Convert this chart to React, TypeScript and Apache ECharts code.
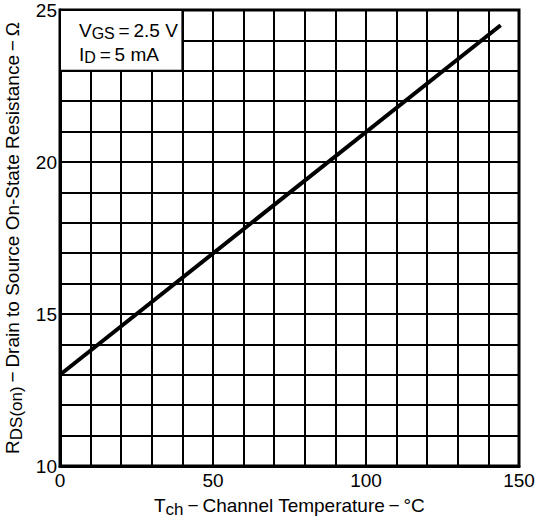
import React, { useEffect, useRef } from "react";
import * as echarts from "echarts";

const xTempC = [0, 144];
const yResistance = [13, 24.5];
const xLabelValues = [0, 50, 100, 150];
const yLabelValues = [10, 15, 20, 25];
const legendLines = ["{n|V}{s|GS}{n|\u2009=\u20092.5 V}", "{n|I}{s|D}{n|\u2009=\u20095 mA}"];

const FONT = "Liberation Sans, Arial, Helvetica, sans-serif";

export default function App() {
  const ref = useRef<HTMLDivElement>(null);
  useEffect(() => {
    if (!ref.current) return;
    const chart = echarts.init(ref.current, undefined, { renderer: "svg" });
    const rich = {
      n: { fontSize: 19, fontFamily: FONT, color: "#000" },
      s: { fontSize: 17, fontFamily: FONT, color: "#000", padding: [8, 0, 0, 0] },
    };
    chart.setOption({
      animation: false,
      backgroundColor: "#fff",
      grid: {
        left: 60,
        right: 19,
        top: 10,
        bottom: 58,
        show: true,
        borderColor: "#000",
        borderWidth: 3,
        backgroundColor: "transparent",
        outerBoundsMode: "none",
        containLabel: false,
      },
      xAxis: {
        type: "value",
        min: 0,
        max: 150,
        interval: 10,
        name: "{n|T}{s|ch}{n|\u2009−\u2009Channel Temperature\u2009−\u2009°C}",
        nameLocation: "middle",
        nameGap: 27,
        nameTextStyle: { rich },
        axisLine: { show: true, lineStyle: { color: "#000", width: 3 } },
        axisTick: { show: false },
        splitLine: { show: true, lineStyle: { color: "#000", width: 2 } },
        axisLabel: {
          color: "#000",
          fontSize: 19,
          fontFamily: FONT,
          margin: 5,
          formatter: (v: number) => (xLabelValues.includes(v) ? String(v) : ""),
        },
      },
      yAxis: {
        type: "value",
        min: 10,
        max: 25,
        interval: 1,
        name: "{n|R}{s|DS(on)}{n|\u2009−\u2009Drain to Source On-State Resistance\u2009−\u2009Ω}",
        nameLocation: "middle",
        nameGap: 30,
        nameTextStyle: { rich },
        axisLine: { show: true, lineStyle: { color: "#000", width: 3 } },
        axisTick: { show: false },
        splitLine: { show: true, lineStyle: { color: "#000", width: 2 } },
        axisLabel: {
          color: "#000",
          fontSize: 19,
          fontFamily: FONT,
          margin: 3,
          formatter: (v: number) => (yLabelValues.includes(v) ? String(v) : ""),
        },
      },
      series: [
        {
          type: "line",
          data: xTempC.map((x, i) => [x, yResistance[i]]),
          showSymbol: false,
          symbol: "none",
          lineStyle: { color: "#000", width: 4 },
          z: 5,
        },
      ],
    });
    const p0 = chart.convertToPixel({ gridIndex: 0 }, [0, 25]) as number[];
    const p1 = chart.convertToPixel({ gridIndex: 0 }, [40, 23]) as number[];
    chart.setOption({
      graphic: [
        {
          type: "rect",
          shape: { x: p0[0], y: p0[1], width: p1[0] - p0[0], height: p1[1] - p0[1] },
          style: { fill: "#fff", stroke: "#000", lineWidth: 2 },
          z: 10,
        },
        {
          type: "text",
          x: p0[0] + 19,
          y: p0[1] + 8,
          z: 11,
          style: {
            text: legendLines.join("\n"),
            rich: {
              n: { fontSize: 19, fontFamily: FONT, fill: "#000", lineHeight: 24 },
              s: { fontSize: 16, fontFamily: FONT, fill: "#000", padding: [7, 0, 0, 0], lineHeight: 24 },
            },
          },
        },
      ],
    });
    return () => chart.dispose();
  }, []);
  return <div ref={ref} style={{ width: 538, height: 524, position: "absolute", left: 0, top: 0 }} />;
}
